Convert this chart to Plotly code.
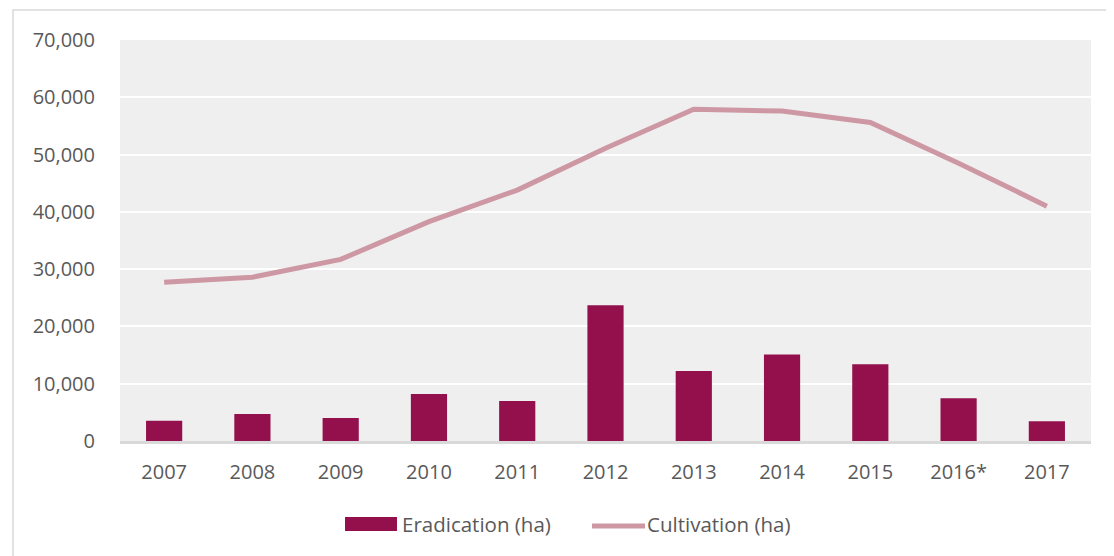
import plotly.graph_objects as go

years = ["2007", "2008", "2009", "2010", "2011", "2012", "2013", "2014", "2015", "2016*", "2017"]
eradication = [3550, 4700, 4000, 8200, 7000, 23700, 12200, 15100, 13400, 7450, 3450]
cultivation = [27700, 28600, 31700, 38300, 43800, 51100, 57900, 57600, 55600, 48500, 41000]
series_names = ["Eradication (ha)", "Cultivation (ha)"]
y_ticks = [0, 10000, 20000, 30000, 40000, 50000, 60000, 70000]

BAR_COLOR = "#93104D"
LINE_COLOR = "#CD98A3"
TEXT_COLOR = "#595959"
FONT = "Open Sans"

fig = go.Figure()
fig.add_trace(go.Bar(x=years, y=eradication, name=series_names[0],
                     marker=dict(color=BAR_COLOR, line=dict(width=0)),
                     showlegend=False))
fig.add_trace(go.Scatter(x=years, y=cultivation, name=series_names[1], mode="lines",
                         line=dict(color=LINE_COLOR, width=5), showlegend=False))

# page is offset by the 8px body margin
OFF = 8
W, H = 1114 - OFF, 556 - OFF
L, T = 120 - OFF, 40 - OFF
PR, PB = 1091 - OFF, 441 - OFF
R, B = W - PR, H - PB
pw, ph = PR - L, PB - T

def px_x(x):
    return (x - OFF - L) / pw

def px_y(y):
    return (PB - (y - OFF)) / ph

fig.update_layout(
    width=W, height=H,
    margin=dict(l=L, r=R, t=T, b=B),
    paper_bgcolor="white", plot_bgcolor="#EFEFEF",
    font=dict(family=FONT, size=20, color=TEXT_COLOR),
    bargap=0.59,
    showlegend=False,
)
fig.update_yaxes(range=[0, 70000], tickvals=y_ticks,
                 ticktext=[f"{v:,}" for v in y_ticks],
                 gridcolor="white", gridwidth=2, zeroline=False,
                 ticks="outside", ticklen=20, tickcolor="rgba(0,0,0,0)",
                 showline=False, fixedrange=True)
fig.update_xaxes(showgrid=False, showline=True, linecolor="#D9D9D9", linewidth=3,
                 ticks="outside", ticklen=11, tickcolor="rgba(0,0,0,0)")

# outer chart border
fig.add_shape(type="rect", xref="paper", yref="paper",
              x0=px_x(13), x1=px_x(1130), y0=px_y(10), y1=px_y(580),
              line=dict(color="#D9D9D9", width=1.5), fillcolor="rgba(0,0,0,0)", layer="below")

# legend
ly = 524
fig.add_shape(type="rect", xref="paper", yref="paper",
              x0=px_x(345), x1=px_x(397), y0=px_y(531), y1=px_y(517),
              fillcolor=BAR_COLOR, line=dict(width=0))
fig.add_annotation(xref="paper", yref="paper", x=px_x(400), y=px_y(ly),
                   text=series_names[0], showarrow=False, xanchor="left", yanchor="middle",
                   font=dict(family=FONT, size=20.5, color=TEXT_COLOR))
fig.add_shape(type="line", xref="paper", yref="paper",
              x0=px_x(592), x1=px_x(645), y0=px_y(526), y1=px_y(526),
              line=dict(color=LINE_COLOR, width=5))
fig.add_annotation(xref="paper", yref="paper", x=px_x(645), y=px_y(ly),
                   text=series_names[1], showarrow=False, xanchor="left", yanchor="middle",
                   font=dict(family=FONT, size=20.5, color=TEXT_COLOR))

fig.write_html("out.html")
